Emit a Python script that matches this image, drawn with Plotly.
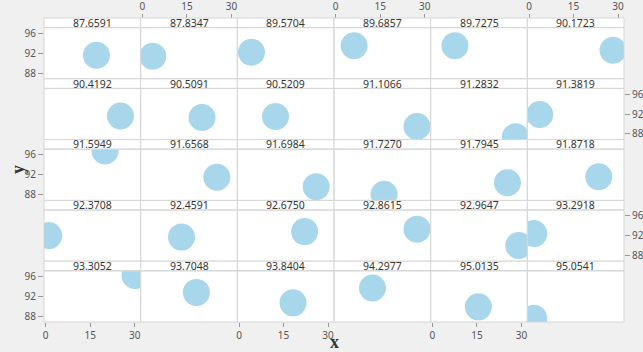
import plotly.graph_objects as go

# Facet values (one panel per value), laid out 6 per row
facet_values = [87.6591, 87.8347, 89.5704, 89.6857, 89.7275, 90.1723,
                90.4192, 90.5091, 90.5209, 91.1066, 91.2832, 91.3819,
                91.5949, 91.6568, 91.6984, 91.7270, 91.7945, 91.8718,
                92.3708, 92.4591, 92.6750, 92.8615, 92.9647, 93.2918,
                93.3052, 93.7048, 93.8404, 94.2977, 95.0135, 95.0541]

x_vals = [17.1, 3.5, 4.2, 6.2, 7.6, 28.3,
          25.2, 20.1, 12.3, 27.4, 28.0, 3.6,
          20.0, 25.1, 26.0, 16.3, 25.3, 23.5,
          1.0, 13.2, 22.1, 27.4, 29.1, 1.6,
          30.1, 18.2, 18.2, 12.4, 15.5, 1.6]

y_vals = [91.6, 91.4, 92.2, 93.5, 93.5, 92.6,
          91.6, 91.3, 91.5, 89.5, 87.4, 91.9,
          96.8, 91.5, 89.6, 88.1, 90.4, 91.6,
          92.0, 91.7, 92.8, 93.3, 90.0, 92.4,
          96.2, 92.8, 90.7, 93.7, 89.9, 87.6]

x_ticks = [0, 15, 30]
y_ticks = [88, 92, 96]

NROWS, NCOLS = 5, 6
W, H = 643, 352
ML, MR, MT, MB = 44, 19, 18, 30
PH = H - MT - MB          # plot height in px
ROW_H = PH / NROWS
STRIP_H = 9.6

X_RANGE = [-0.57, 32]
Y_RANGE = [86.85, 97.15]

LINE = "#d6d6d6"
TICK_FONT = dict(family="Noto Sans, Arial, sans-serif", size=10, color="#555555")
MARKER = "#a8d6ea"


def py(px):
    """pixel offset from the top of the plot area -> paper y"""
    return 1 - px / PH


fig = go.Figure()
layout = {}
shapes = []
annotations = []

for k, (fv, xv, yv) in enumerate(zip(facet_values, x_vals, y_vals)):
    r, c = divmod(k, NCOLS)
    n = k + 1
    xname = "x" if n == 1 else f"x{n}"
    yname = "y" if n == 1 else f"y{n}"
    xkey = "xaxis" if n == 1 else f"xaxis{n}"
    ykey = "yaxis" if n == 1 else f"yaxis{n}"

    row_top = r * ROW_H
    panel_top = row_top + STRIP_H
    panel_bot = (r + 1) * ROW_H
    x0, x1 = c / NCOLS, (c + 1) / NCOLS

    fig.add_trace(go.Scatter(
        x=[xv], y=[yv], xaxis=xname, yaxis=yname, mode="markers",
        marker=dict(size=27, color=MARKER, line=dict(width=0)),
        showlegend=False, hoverinfo="x+y",
    ))

    xa = dict(domain=[x0, x1], range=X_RANGE, anchor=yname, automargin=False,
              showgrid=False, zeroline=False, showline=False,
              tickvals=x_ticks, ticks="", showticklabels=False,
              tickfont=TICK_FONT, tickcolor="#999999", ticklen=4)
    if r == NROWS - 1 and c % 2 == 0:
        xa.update(ticks="outside", showticklabels=True, side="bottom")
    if r == 0 and c % 2 == 1:
        xa.update(ticks="outside", showticklabels=True, side="top",
                  anchor="free", position=1.0)

    ya = dict(domain=[py(panel_bot), py(panel_top)], range=Y_RANGE, anchor=xname,
              automargin=False,
              showgrid=False, zeroline=False, showline=False,
              tickvals=y_ticks, ticks="", showticklabels=False,
              tickfont=TICK_FONT, tickcolor="#999999", ticklen=5)
    if c == 0 and r % 2 == 0:
        ya.update(ticks="outside", showticklabels=True, side="left")
    if c == NCOLS - 1 and r % 2 == 1:
        ya.update(ticks="outside", showticklabels=True, side="right")

    layout[xkey] = xa
    layout[ykey] = ya

    # strip header
    shapes.append(dict(type="rect", xref="paper", yref="paper",
                       x0=x0, x1=x1, y0=py(panel_top), y1=py(row_top),
                       fillcolor="white", line=dict(color=LINE, width=1),
                       layer="above"))
    # panel frame
    shapes.append(dict(type="rect", xref="paper", yref="paper",
                       x0=x0, x1=x1, y0=py(panel_bot), y1=py(panel_top),
                       fillcolor="rgba(0,0,0,0)", line=dict(color=LINE, width=1),
                       layer="above"))
    annotations.append(dict(text=f"{fv:.4f}", xref="paper", yref="paper",
                            x=(x0 + x1) / 2, y=py(row_top + STRIP_H / 2),
                            xanchor="center", yanchor="middle", showarrow=False,
                            font=dict(family="Noto Sans, Arial, sans-serif",
                                      size=10.5, color="#333333")))

# axis titles
annotations.append(dict(text="<b>x</b>", xref="paper", yref="paper", x=0.5,
                        y=-(341.5 - (H - MB)) / PH, xanchor="center", yanchor="middle",
                        showarrow=False,
                        font=dict(family="Liberation Serif, serif", size=18, color="#333333")))
annotations.append(dict(text="<b>y</b>", xref="paper", yref="paper",
                        x=(18 - ML) / (W - ML - MR), y=py(170 - MT),
                        xanchor="center", yanchor="middle", textangle=-90,
                        showarrow=False,
                        font=dict(family="Liberation Serif, serif", size=18, color="#333333")))

fig.update_layout(
    width=W, height=H,
    margin=dict(l=ML, r=MR, t=MT, b=MB, pad=0, autoexpand=False),
    paper_bgcolor="#f0f0f0",
    plot_bgcolor="white",
    shapes=shapes,
    annotations=annotations,
    showlegend=False,
    **layout,
)

fig.write_html("out.html", config={"displayModeBar": False})
